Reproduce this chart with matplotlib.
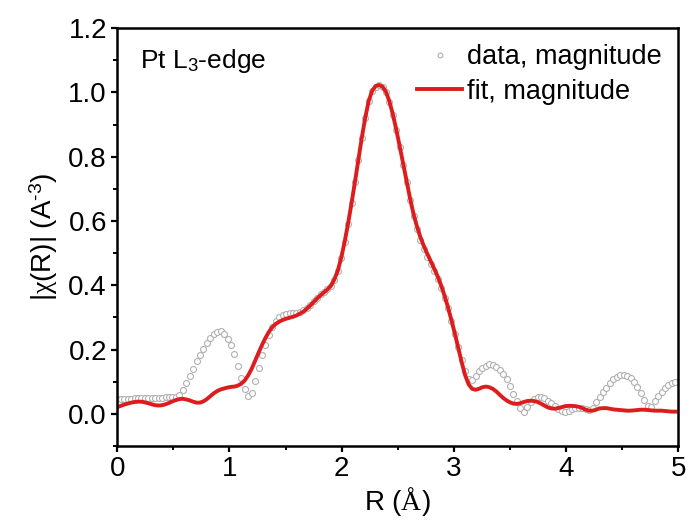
import numpy as np
import matplotlib
matplotlib.use("Agg")
import matplotlib.pyplot as plt
from matplotlib.ticker import MultipleLocator

plt.rcParams['font.family'] = ['Liberation Sans', 'DejaVu Sans']
plt.rcParams['mathtext.fontset'] = 'custom'
plt.rcParams['mathtext.rm'] = 'Liberation Sans'
plt.rcParams['mathtext.sf'] = 'Liberation Sans'
# upright serif for chi and the Angstrom sign
plt.rcParams['mathtext.it'] = 'Liberation Serif'

# R grid step of the Fourier transform (Å)
dr = 0.0307

# |chi(R)| of the measured spectrum
data_mag = [
    0.046, 0.046, 0.047, 0.047, 0.047, 0.048, 0.048, 0.048, 0.049, 0.049,
    0.049, 0.050, 0.050, 0.050, 0.051, 0.051, 0.052, 0.053, 0.058, 0.075,
    0.097, 0.118, 0.140, 0.163, 0.182, 0.203, 0.222, 0.236, 0.248, 0.256,
    0.257, 0.249, 0.234, 0.215, 0.186, 0.150, 0.112, 0.077, 0.056, 0.064,
    0.103, 0.144, 0.182, 0.215, 0.245, 0.270, 0.289, 0.302, 0.309, 0.312,
    0.313, 0.313, 0.315, 0.318, 0.322, 0.330, 0.340, 0.350, 0.362, 0.372,
    0.380, 0.388, 0.398, 0.418, 0.445, 0.485, 0.535, 0.592, 0.655, 0.720,
    0.790, 0.858, 0.920, 0.972, 1.003, 1.018, 1.022, 1.018, 1.002, 0.970,
    0.930, 0.882, 0.830, 0.775, 0.720, 0.665, 0.615, 0.575, 0.540, 0.512,
    0.488, 0.466, 0.444, 0.420, 0.393, 0.362, 0.328, 0.290, 0.250, 0.208,
    0.168, 0.133, 0.110, 0.106, 0.118, 0.132, 0.143, 0.150, 0.154, 0.153,
    0.147, 0.137, 0.125, 0.110, 0.086, 0.062, 0.040, 0.018, 0.005, 0.020,
    0.036, 0.046, 0.051, 0.052, 0.049, 0.041, 0.033, 0.024, 0.015, 0.009,
    0.007, 0.010, 0.015, 0.018, 0.018, 0.017, 0.015, 0.012, 0.018, 0.036,
    0.052, 0.067, 0.082, 0.096, 0.108, 0.116, 0.121, 0.122, 0.119, 0.111,
    0.099, 0.085, 0.064, 0.044, 0.024, 0.022, 0.040, 0.056, 0.068, 0.080,
    0.089, 0.096, 0.100,
]

# |chi(R)| of the fitted model
fit_mag = [
    0.021, 0.025, 0.029, 0.032, 0.035, 0.037, 0.038, 0.038, 0.036, 0.033,
    0.030, 0.027, 0.026, 0.027, 0.030, 0.034, 0.039, 0.043, 0.046, 0.047,
    0.045, 0.042, 0.038, 0.035, 0.035, 0.039, 0.046, 0.055, 0.064, 0.071,
    0.076, 0.079, 0.082, 0.084, 0.085, 0.088, 0.094, 0.104, 0.120, 0.140,
    0.165, 0.190, 0.214, 0.236, 0.255, 0.270, 0.280, 0.287, 0.292, 0.296,
    0.299, 0.302, 0.306, 0.312, 0.318, 0.327, 0.337, 0.348, 0.359, 0.369,
    0.378, 0.387, 0.398, 0.418, 0.445, 0.485, 0.535, 0.592, 0.655, 0.722,
    0.792, 0.860, 0.922, 0.974, 1.005, 1.020, 1.023, 1.018, 1.002, 0.972,
    0.932, 0.884, 0.832, 0.778, 0.723, 0.670, 0.622, 0.583, 0.550, 0.522,
    0.498, 0.475, 0.452, 0.428, 0.400, 0.368, 0.332, 0.292, 0.250, 0.205,
    0.160, 0.120, 0.092, 0.078, 0.075, 0.078, 0.083, 0.085, 0.083, 0.078,
    0.070, 0.060, 0.050, 0.042, 0.036, 0.032, 0.031, 0.033, 0.037, 0.040,
    0.041, 0.040, 0.037, 0.032, 0.026, 0.020, 0.017, 0.016, 0.018, 0.021,
    0.024, 0.025, 0.025, 0.024, 0.022, 0.018, 0.013, 0.010, 0.010, 0.013,
    0.017, 0.018, 0.018, 0.016, 0.014, 0.013, 0.012, 0.011, 0.010, 0.010,
    0.011, 0.012, 0.013, 0.013, 0.012, 0.011, 0.010, 0.010, 0.010, 0.009,
    0.008, 0.007, 0.007,
]

r = np.arange(len(data_mag)) * dr

fig = plt.figure(figsize=(6.9, 5.31), dpi=100)
ax = fig.add_axes([0.170, 0.160, 0.813, 0.787])

ax.plot(r, data_mag, 'o', ms=4.3, mfc='white', mec='#b0b0b0', mew=0.8,
        label='data, magnitude')
ax.plot(r, fit_mag, '-', color='#dd1d1d', lw=2.8, label='fit, magnitude')

ax.set_xlim(0, 5)
ax.set_ylim(-0.1, 1.2)
ax.xaxis.set_major_locator(MultipleLocator(1))
ax.xaxis.set_minor_locator(MultipleLocator(0.5))
ax.yaxis.set_major_locator(MultipleLocator(0.2))
ax.yaxis.set_minor_locator(MultipleLocator(0.1))
ax.yaxis.set_major_formatter(plt.FormatStrFormatter('%.1f'))

for s in ax.spines.values():
    s.set_linewidth(1.8)
ax.tick_params(which='major', direction='out', length=4.5, width=1.6,
               labelsize=20, pad=3)
ax.tick_params(which='minor', direction='out', length=3, width=1.4)

ax.set_xlabel(r'R ($\AA$)', fontsize=20, labelpad=2)
ax.set_ylabel(r'|$\chi$(R)| (A$^{\text{-3}}$)', fontsize=20, labelpad=6)

ax.text(0.04, 0.955, r'Pt L$_{\mathsf{3}}$-edge', transform=ax.transAxes,
        fontsize=19, va='top', ha='left')

ax.legend(loc='upper right', frameon=False, fontsize=19.5,
          handlelength=1.65, handletextpad=0.2, labelspacing=0.3,
          borderaxespad=0.2, markerscale=0.8)

plt.savefig("out.png", dpi=100)
